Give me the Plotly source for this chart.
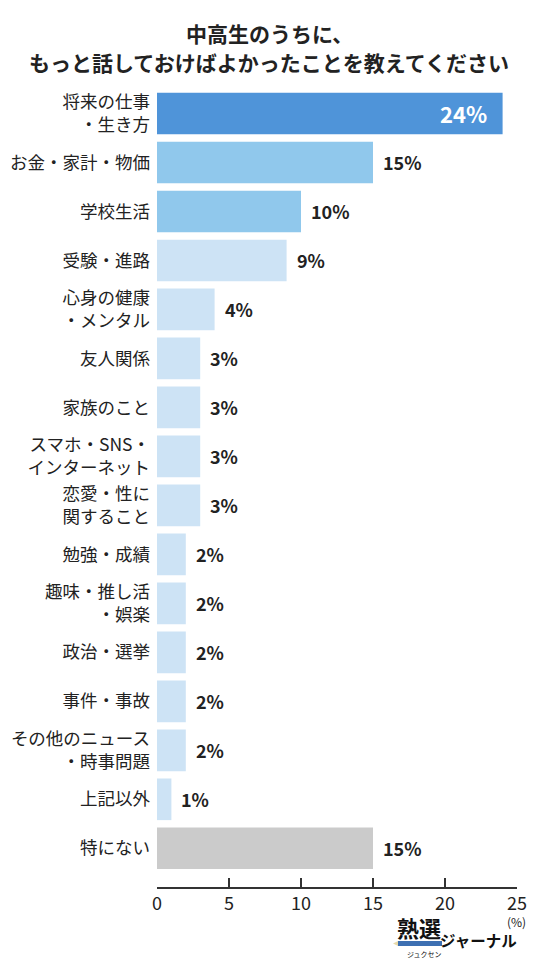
import plotly.graph_objects as go

# Survey data (percent)
categories = [
    "将来の仕事<br>・生き方", "お金・家計・物価", "学校生活", "受験・進路",
    "心身の健康<br>・メンタル", "友人関係", "家族のこと", "スマホ・SNS・<br>インターネット",
    "恋愛・性に<br>関すること", "勉強・成績", "趣味・推し活<br>・娯楽", "政治・選挙",
    "事件・事故", "その他のニュース<br>・時事問題", "上記以外", "特にない",
]
values = [24, 15, 10, 9, 4, 3, 3, 3, 3, 2, 2, 2, 2, 2, 1, 15]
bar_colors = (["#4f94d9"] + ["#90c8ec"] * 2 + ["#cde3f5"] * 12 + ["#cbcbcb"])
x_ticks = [0, 5, 10, 15, 20, 25]
title_lines = ["中高生のうちに、", "もっと話しておけばよかったことを教えてください"]

FONT = "Noto Sans CJK JP"
TXT = "#222222"

# the page body has an 8px margin, so the figure is drawn 8px smaller
OFF = 8
W, H = 536 - OFF, 966 - OFF
ML, MR, MT, MB = 157 - OFF, 19, 89 - OFF, 79


def px(x):
    # window pixel -> paper x
    return (x - OFF - ML) / (W - ML - MR)


def py(y):
    # window pixel -> paper y
    return (H - MB - (y - OFF)) / (H - MT - MB)


def note(text, x, y, size, color=TXT, bold=False):
    return dict(x=px(x), y=py(y), xref="paper", yref="paper", text=text, showarrow=False,
                xanchor="center", yanchor="middle",
                font=dict(family=FONT, size=size, color=color,
                          weight="bold" if bold else "normal"))


fig = go.Figure(go.Bar(
    x=values, y=categories, orientation="h",
    marker=dict(color=bar_colors, line=dict(width=0)),
    hoverinfo="x+y",
))

# value labels
annotations = []
for i, (c, v) in enumerate(zip(categories, values)):
    if i == 0:
        annotations.append(dict(x=v, y=c, xref="x", yref="y", text=f"{v}%",
                                showarrow=False, xanchor="right", yanchor="middle", xshift=-14,
                                font=dict(family=FONT, size=22, color="white", weight="bold")))
    else:
        annotations.append(dict(x=v, y=c, xref="x", yref="y", text=f"{v}%",
                                showarrow=False, xanchor="left", yanchor="middle", xshift=8,
                                font=dict(family=FONT, size=18, color=TXT, weight="bold")))

# title lines
for line, ypix in zip(title_lines, [33, 62]):
    annotations.append(note(line, 269, ypix, 21, bold=True))

# unit + logo
annotations += [
    note("(%)", 516, 922, 12),
    note("熟選", 419, 927, 22, "#111111", bold=True),
    note("ジャーナル", 478, 940, 15.5, "#111111", bold=True),
    note("ジュクセン", 424, 954, 7, "#111111"),
]

shapes = [
    dict(type="rect", xref="paper", yref="paper", x0=px(398), x1=px(442),
         y0=py(946), y1=py(941), fillcolor="#3d70b2", line=dict(width=0)),
    dict(type="path", xref="paper", yref="paper",
         path=f"M {px(393)},{py(943.5)} L {px(398)},{py(941)} L {px(398)},{py(946)} Z",
         fillcolor="#e8d9a8", line=dict(width=0)),
]

fig.update_layout(
    width=W, height=H,
    margin=dict(l=ML, r=MR, t=MT, b=MB),
    paper_bgcolor="white", plot_bgcolor="white",
    bargap=0.15,
    showlegend=False,
    font=dict(family=FONT, color=TXT),
    annotations=annotations,
    shapes=shapes,
)
fig.update_xaxes(
    range=[0, 25], tickvals=x_ticks, showgrid=False, zeroline=False,
    showline=True, linecolor="#333333", linewidth=1.5,
    ticks="inside", ticklen=9, tickwidth=1.5, tickcolor="#333333",
    tickfont=dict(family=FONT, size=18, color=TXT), automargin=False,
)
fig.update_yaxes(
    categoryorder="array", categoryarray=categories,
    range=[15.79, -0.5], showgrid=False, zeroline=False, showline=False,
    ticks="", ticklabelstandoff=6, automargin=False,
    tickfont=dict(family=FONT, size=17.5, color=TXT),
)

fig.write_html("out.html")
